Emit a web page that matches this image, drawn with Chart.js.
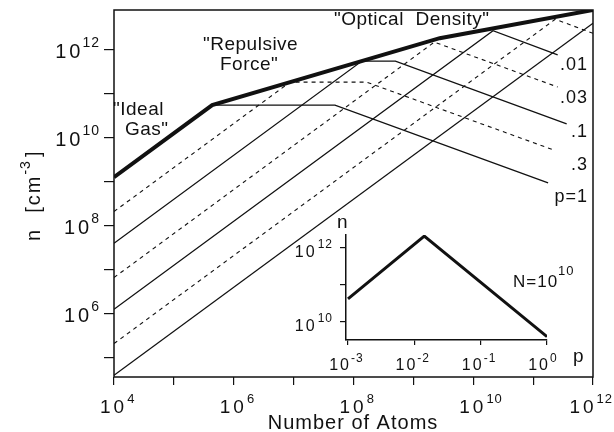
<!DOCTYPE html>
<html>
<head>
<meta charset="utf-8">
<script src="https://cdn.jsdelivr.net/npm/chart.js@4.4.1/dist/chart.umd.min.js"></script>
<style>
  html, body { margin: 0; padding: 0; background: #fff; }
  #wrap { position: relative; width: 614px; height: 432px; }
  #main { position: absolute; left: 0; top: 0; }
  #inset { position: absolute; left: 290px; top: 205px; }
</style>
</head>
<body>
<div id="wrap">
  <canvas id="main" width="614" height="432"></canvas>
  <canvas id="inset" width="320" height="180"></canvas>
</div>
<script>
// all values are log10
// x = number of atoms N, y = density n [cm^-3]
const mainXDecades = [4, 5, 6, 7, 8, 9, 10, 11, 12]
const mainYDecades = [5, 6, 7, 8, 9, 10, 11, 12]
const mainXLabels = [4, 6, 8, 10, 12]
const mainYLabels = [6, 8, 10, 12]

// thick outer curve: "Ideal Gas" -> "Repulsive Force" -> "Optical Density"
const envLogN = [4, 5.64, 9.44, 12]
const envLogn = [9.11, 10.75, 12.27, 12.91]

// one thin curve per p (solid / dashed alternating)
const p1LogN = [5.64, 7.69, 11.25]
const p1Logn = [10.75, 10.75, 8.98]
const pt3LogN = [4, 6.94, 8.22, 11.36]
const pt3Logn = [8.33, 11.27, 11.27, 9.72]
const pt1LogN = [4, 8.14, 8.70, 11.56]
const pt1Logn = [7.61, 11.75, 11.75, 10.32]
const pt03LogN = [4, 9.35, 11.41]
const pt03Logn = [6.83, 12.18, 11.16]
const pt01LogN = [4, 10.33, 11.41]
const pt01Logn = [6.11, 12.44, 11.89]
const pt003LogN = [4, 11.37, 12]
const pt003Logn = [5.33, 12.70, 12.38]
const pt001LogN = [4, 12]
const pt001Logn = [4.61, 12.61]

const curveLabels = ['.01', '.03', '.1', '.3', 'p=1']

// inset: n against p at N = 10^10
const insetXDecades = [-3, -2, -1, 0]
const insetYDecades = [10, 11, 12]
const insetYLabels = [10, 12]
const insetLogp = [-3, -1.85, 0]
const insetLogn = [10.62, 12.32, 9.6]

const INK = '#111'
const FONT = '"Liberation Sans", Arial, sans-serif'

function pts(logX, logY) {
    return logX.map((v, i) => ({ x: Math.pow(10, v), y: Math.pow(10, logY[i]) }))
}

function curve(logX, logY, width, dash) {
    return {
        data: pts(logX, logY),
        borderColor: INK,
        borderWidth: width,
        borderDash: dash || [],
        borderJoinStyle: 'miter',
        pointRadius: 0,
        tension: 0,
        fill: false
    }
}

// draws "10" with a raised exponent, x is the left edge
function drawPower(ctx, exp, x, y, o) {
    ctx.font = o.base + 'px ' + FONT
    ctx.letterSpacing = o.baseSp + 'px'
    ctx.fillText('10', x, y)
    const w = ctx.measureText('10').width
    ctx.font = o.sup + 'px ' + FONT
    ctx.letterSpacing = o.supSp + 'px'
    ctx.fillText(String(exp), x + w + o.gap, y - o.rise)
    const w2 = ctx.measureText(String(exp)).width
    ctx.letterSpacing = '0px'
    return w + o.gap + w2
}

function powerWidth(ctx, exp, o) {
    ctx.font = o.base + 'px ' + FONT
    ctx.letterSpacing = o.baseSp + 'px'
    const w = ctx.measureText('10').width
    ctx.font = o.sup + 'px ' + FONT
    ctx.letterSpacing = o.supSp + 'px'
    const w2 = ctx.measureText(String(exp)).width
    ctx.letterSpacing = '0px'
    return w + o.gap + w2
}

function decadeTicks(list) {
    return (scale) => { scale.ticks = list.map((e) => ({ value: Math.pow(10, e) })) }
}

const mainText = {
    id: 'mainText',
    afterDraw(chart) {
        const ctx = chart.ctx
        const a = chart.chartArea
        const xs = chart.scales.x
        const ys = chart.scales.y
        ctx.save()
        ctx.fillStyle = INK
        ctx.strokeStyle = INK
        ctx.lineWidth = 1.5
        ctx.strokeRect(a.left, a.top, a.right - a.left, a.bottom - a.top)
        ctx.textBaseline = 'alphabetic'
        ctx.textAlign = 'left'

        const tick = { base: 20, baseSp: 3, sup: 14, supSp: 1, gap: -1, rise: 11 }
        mainYLabels.forEach((e) => {
            const py = ys.getPixelForValue(Math.pow(10, e))
            const w = powerWidth(ctx, e, tick)
            drawPower(ctx, e, 100 - w, py + 7.5, tick)
        })
        const xt = { base: 19, baseSp: 3, sup: 13, supSp: 1, gap: 0, rise: 10 }
        mainXLabels.forEach((e) => {
            const px = xs.getPixelForValue(Math.pow(10, e))
            const w = powerWidth(ctx, e, xt)
            let left = px - 14
            if (left + w > 613) left = 613 - w
            drawPower(ctx, e, left, 413, xt)
        })

        // axis titles
        ctx.font = '20px ' + FONT
        ctx.letterSpacing = '1px'
        ctx.textAlign = 'center'
        ctx.fillText('Number of Atoms', 353, 429)

        ctx.save()
        ctx.translate(40, 241)
        ctx.rotate(-Math.PI / 2)
        ctx.textAlign = 'left'
        ctx.font = '20px ' + FONT
        ctx.letterSpacing = '2px'
        let cx = 0
        ctx.fillText('n  [cm', cx, 0)
        cx += ctx.measureText('n  [cm').width
        ctx.font = '14px ' + FONT
        ctx.letterSpacing = '1px'
        ctx.fillText('-3', cx, -10)
        cx += ctx.measureText('-3').width + 3
        ctx.font = '20px ' + FONT
        ctx.letterSpacing = '2px'
        ctx.fillText(']', cx, 0)
        ctx.restore()

        // regime labels
        ctx.font = '19px ' + FONT
        ctx.letterSpacing = '0.5px'
        ctx.textAlign = 'left'
        ctx.fillText('"Ideal', 113, 115)
        ctx.fillText('Gas"', 125, 135)
        ctx.fillText('"Repulsive', 203, 50)
        ctx.fillText('Force"', 220, 70)
        ctx.fillText('"Optical  Density"', 334, 25)

        // p labels at the right edge
        ctx.font = '18px ' + FONT
        ctx.letterSpacing = '1px'
        ctx.textAlign = 'right'
        const labelY = [70, 103, 137, 170, 202]
        curveLabels.forEach((t, i) => ctx.fillText(t, 588, labelY[i]))
        ctx.restore()
    }
}

const insetText = {
    id: 'insetText',
    afterDraw(chart) {
        const ctx = chart.ctx
        const xs = chart.scales.x
        const ys = chart.scales.y
        ctx.save()
        ctx.fillStyle = INK
        ctx.textBaseline = 'alphabetic'
        ctx.textAlign = 'left'
        const yt = { base: 16, baseSp: 2, sup: 12, supSp: 1, gap: 1, rise: 9 }
        insetYLabels.forEach((e) => {
            const py = ys.getPixelForValue(Math.pow(10, e))
            const w = powerWidth(ctx, e, yt)
            drawPower(ctx, e, 43 - w, py + 9, yt)
        })
        const xt = { base: 16, baseSp: 2, sup: 12, supSp: 1, gap: 0, rise: 8 }
        insetXDecades.forEach((e) => {
            const px = xs.getPixelForValue(Math.pow(10, e))
            ctx.font = '16px ' + FONT
            ctx.letterSpacing = '2px'
            const wb = ctx.measureText('10').width
            drawPower(ctx, e, px + 3 - wb, 165, xt)
        })
        ctx.font = '19px ' + FONT
        ctx.letterSpacing = '0px'
        ctx.fillText('n', 47, 23)
        ctx.fillText('p', 283, 157)

        ctx.font = '17px ' + FONT
        ctx.letterSpacing = '1px'
        ctx.fillText('N=10', 223, 82)
        const w = ctx.measureText('N=10').width
        ctx.font = '13px ' + FONT
        ctx.fillText('10', 223 + w, 70)
        ctx.restore()
    }
}

const mainChart = new Chart(document.getElementById('main'), {
    type: 'line',
    data: {
        datasets: [
            curve(envLogN, envLogn, 4),
            curve(p1LogN, p1Logn, 1.3),
            curve(pt3LogN, pt3Logn, 1.1, [4, 4]),
            curve(pt1LogN, pt1Logn, 1.3),
            curve(pt03LogN, pt03Logn, 1.1, [4, 4]),
            curve(pt01LogN, pt01Logn, 1.3),
            curve(pt003LogN, pt003Logn, 1.1, [4, 4]),
            curve(pt001LogN, pt001Logn, 1.3)
        ]
    },
    options: {
        responsive: false,
        animation: false,
        layout: { padding: { left: 0, top: 10, right: 21, bottom: 0 } },
        plugins: { legend: { display: false }, tooltip: { enabled: false } },
        scales: {
            x: {
                type: 'logarithmic',
                min: 1e4,
                max: 1e12,
                bounds: 'data',
                afterBuildTicks: decadeTicks(mainXDecades),
                afterFit: (s) => { s.height = 55 },
                ticks: { display: false, autoSkip: false },
                grid: { drawOnChartArea: false, tickLength: 8, color: INK, tickColor: INK, lineWidth: 1.2 },
                border: { display: false }
            },
            y: {
                type: 'logarithmic',
                min: Math.pow(10, 4.57),
                max: Math.pow(10, 12.91),
                bounds: 'data',
                afterBuildTicks: decadeTicks(mainYDecades),
                afterFit: (s) => { s.width = 114 },
                ticks: { display: false, autoSkip: false },
                grid: { drawOnChartArea: false, tickLength: 10, color: INK, tickColor: INK, lineWidth: 1.2 },
                border: { display: false }
            }
        }
    },
    plugins: [mainText]
})

const insetChart = new Chart(document.getElementById('inset'), {
    type: 'line',
    data: {
        datasets: [curve(insetLogp, insetLogn, 3)]
    },
    options: {
        responsive: false,
        animation: false,
        layout: { padding: { left: 0, top: 30, right: 63, bottom: 0 } },
        plugins: { legend: { display: false }, tooltip: { enabled: false } },
        scales: {
            x: {
                type: 'logarithmic',
                min: Math.pow(10, -3.03),
                max: 1,
                bounds: 'data',
                afterBuildTicks: decadeTicks(insetXDecades),
                afterFit: (s) => { s.height = 45 },
                ticks: { display: false, autoSkip: false },
                grid: { drawOnChartArea: false, tickLength: 5, color: INK, tickColor: INK, lineWidth: 1.2 },
                border: { display: true, color: INK, width: 1.5 }
            },
            y: {
                type: 'logarithmic',
                min: Math.pow(10, 9.51),
                max: Math.pow(10, 12.35),
                bounds: 'data',
                afterBuildTicks: decadeTicks(insetYDecades),
                afterFit: (s) => { s.width = 56 },
                ticks: { display: false, autoSkip: false },
                grid: { drawOnChartArea: false, tickLength: 6, color: INK, tickColor: INK, lineWidth: 1.2 },
                border: { display: true, color: INK, width: 1.5 }
            }
        }
    },
    plugins: [insetText]
})
</script>
</body>
</html>
